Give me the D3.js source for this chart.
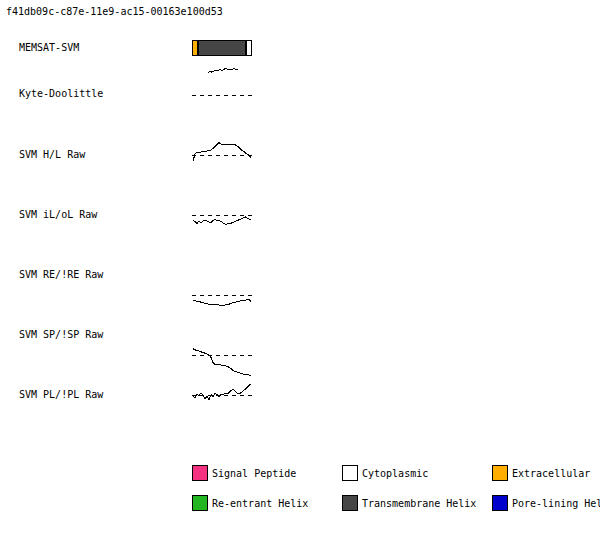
<!DOCTYPE html>
<html>
<head>
<meta charset="utf-8">
<script src="https://cdn.jsdelivr.net/npm/d3@7"></script>
<style>
  html, body { margin: 0; padding: 0; background: #fff; }
  svg { display: block; }
  text { font-family: "DejaVu Sans Mono", "Liberation Mono", monospace; font-size: 10px; fill: #000; }
</style>
</head>
<body>
<svg id="chart" width="600" height="555"></svg>
<script>
// ---------------- DATA ----------------
const title = "f41db09c-c87e-11e9-ac15-00163e100d53";
const seqLength = 30;

// MEMSAT-SVM topology segments
const segStart = [1, 4, 28];
const segEnd   = [3, 27, 30];
const segType  = ["Extracellular", "Transmembrane Helix", "Cytoplasmic"];

// Kyte-Doolittle hydropathy (window 15), residues 8..23
const kdStart = 8;
const kdValues = [2.2, 2.35, 2.28, 2.42, 2.5, 2.42, 2.55, 2.42, 2.55, 2.7, 2.5, 2.55, 2.55, 2.65, 2.55, 2.58];

// SVM raw scores, residues 1..30
const hlRaw  = [-0.6, 0.1, 0.25, 0.3, 0.3, 0.33, 0.37, 0.4, 0.43, 0.5, 0.65, 0.85, 1.05, 1.23, 1.1, 1.1, 1.1, 1.1, 1.08, 1.06, 1.04, 1.03, 0.9, 0.75, 0.55, 0.4, 0.25, 0.1, -0.05, -0.25];
const iloRaw = [-0.55, -0.65, -0.85, -0.58, -0.8, -0.58, -0.5, -0.62, -0.72, -0.75, -0.55, -0.45, -0.58, -0.5, -0.65, -0.8, -0.92, -0.9, -0.88, -0.82, -0.75, -0.65, -0.55, -0.48, -0.4, -0.3, -0.18, -0.28, -0.4, -0.5];
const reRaw  = [-0.55, -0.58, -0.62, -0.65, -0.72, -0.78, -0.82, -0.88, -0.92, -0.95, -0.98, -0.92, -0.97, -1.0, -1.0, -1.0, -1.0, -0.98, -0.92, -0.85, -0.78, -0.72, -0.68, -0.62, -0.58, -0.55, -0.52, -0.48, -0.42, -0.65];
const spRaw  = [0.63, 0.52, 0.45, 0.4, 0.32, 0.25, 0.18, 0.12, 0.0, -0.25, -0.75, -0.95, -0.97, -0.97, -1.0, -1.03, -1.03, -1.15, -1.22, -1.35, -1.58, -1.65, -1.7, -1.77, -1.85, -1.9, -1.94, -1.97, -2.0, -2.03];
const plRaw  = [-0.1, -0.3, 0.1, -0.1, 0.23, -0.05, -0.4, -0.1, -0.45, 0.03, -0.15, 0.17, 0.05, -0.2, 0.03, 0.0, 0.17, 0.1, 0.23, 0.43, 0.57, 0.37, 0.17, 0.1, 0.23, 0.4, 0.57, 0.75, 0.97, 1.1];

const panelNames = ["SVM H/L Raw", "SVM iL/oL Raw", "SVM RE/!RE Raw", "SVM SP/!SP Raw", "SVM PL/!PL Raw"];
const panelData  = [hlRaw, iloRaw, reRaw, spRaw, plRaw];

const legendLabels = ["Signal Peptide", "Cytoplasmic", "Extracellular", "Re-entrant Helix", "Transmembrane Helix", "Pore-lining Helix"];
const legendColors = ["#f5327f", "#ffffff", "#ffae00", "#22b722", "#464646", "#0000cc"];

// ---------------- LAYOUT ----------------
const svg = d3.select("#chart");
const labelX = 19;
const x = d3.scaleLinear().domain([0.5, seqLength + 0.5]).range([192, 252]);
const colorOf = t => legendColors[legendLabels.indexOf(t)];

svg.append("text").attr("x", 6).attr("y", 15).text(title);

// MEMSAT-SVM row
svg.append("text").attr("x", labelX).attr("y", 51).text("MEMSAT-SVM");
svg.append("g").selectAll("rect")
  .data(segStart.map((s, i) => ({ s, e: segEnd[i], t: segType[i] })))
  .join("rect")
  .attr("x", d => x(d.s - 0.5) + 0.5)
  .attr("y", 40.5)
  .attr("width", d => x(d.e + 0.5) - x(d.s - 0.5) - 1)
  .attr("height", 15)
  .attr("fill", d => colorOf(d.t))
  .attr("stroke", "#000")
  .attr("stroke-width", 1)
  .attr("shape-rendering", "crispEdges");

// helper for dashed zero line + curve
function drawTrack(baseY, values, startRes) {
  const y = d3.scaleLinear().domain([-1, 1]).range([baseY + 10, baseY - 10]);
  svg.append("line")
    .attr("x1", x(0.5)).attr("x2", x(seqLength + 0.5))
    .attr("y1", y(0) + 0.5).attr("y2", y(0) + 0.5)
    .attr("stroke", "#000").attr("stroke-width", 1)
    .attr("stroke-dasharray", "4,4")
    .attr("shape-rendering", "crispEdges");
  const line = d3.line()
    .x((d, i) => x(startRes + i))
    .y(d => y(d));
  svg.append("path")
    .datum(values)
    .attr("d", line)
    .attr("fill", "none")
    .attr("stroke", "#000")
    .attr("stroke-width", 1)
    .attr("shape-rendering", "crispEdges");
}

// Kyte-Doolittle
svg.append("text").attr("x", labelX).attr("y", 97).text("Kyte-Doolittle");
(function () {
  const baseY = 95;
  const y = d3.scaleLinear().domain([-4, 4]).range([baseY + 40, baseY - 40]);
  svg.append("line")
    .attr("x1", x(0.5)).attr("x2", x(seqLength + 0.5))
    .attr("y1", y(0) + 0.5).attr("y2", y(0) + 0.5)
    .attr("stroke", "#000").attr("stroke-dasharray", "4,4")
    .attr("shape-rendering", "crispEdges");
  svg.append("path")
    .datum(kdValues)
    .attr("d", d3.line().x((d, i) => x(kdStart + i) + 1).y(d => y(d)))
    .attr("fill", "none").attr("stroke", "#000")
    .attr("shape-rendering", "crispEdges");
})();

// SVM panels
const panelLabelY = [158, 218, 278, 338, 398];
const panelBaseY  = [155, 215, 295, 355, 395];
panelNames.forEach((name, i) => {
  svg.append("text").attr("x", labelX).attr("y", panelLabelY[i]).text(name);
  drawTrack(panelBaseY[i], panelData[i], 1);
});

// Legend
const legend = svg.append("g").selectAll("g")
  .data(legendLabels)
  .join("g")
  .attr("transform", (d, i) => `translate(${192 + (i % 3) * 150},${465 + Math.floor(i / 3) * 30})`);
legend.append("rect")
  .attr("x", 0.5).attr("y", 0.5)
  .attr("width", 15).attr("height", 15)
  .attr("fill", (d, i) => legendColors[i])
  .attr("stroke", "#000")
  .attr("shape-rendering", "crispEdges");
legend.append("text")
  .attr("x", 20).attr("y", 12)
  .text(d => d);
</script>
</body>
</html>
